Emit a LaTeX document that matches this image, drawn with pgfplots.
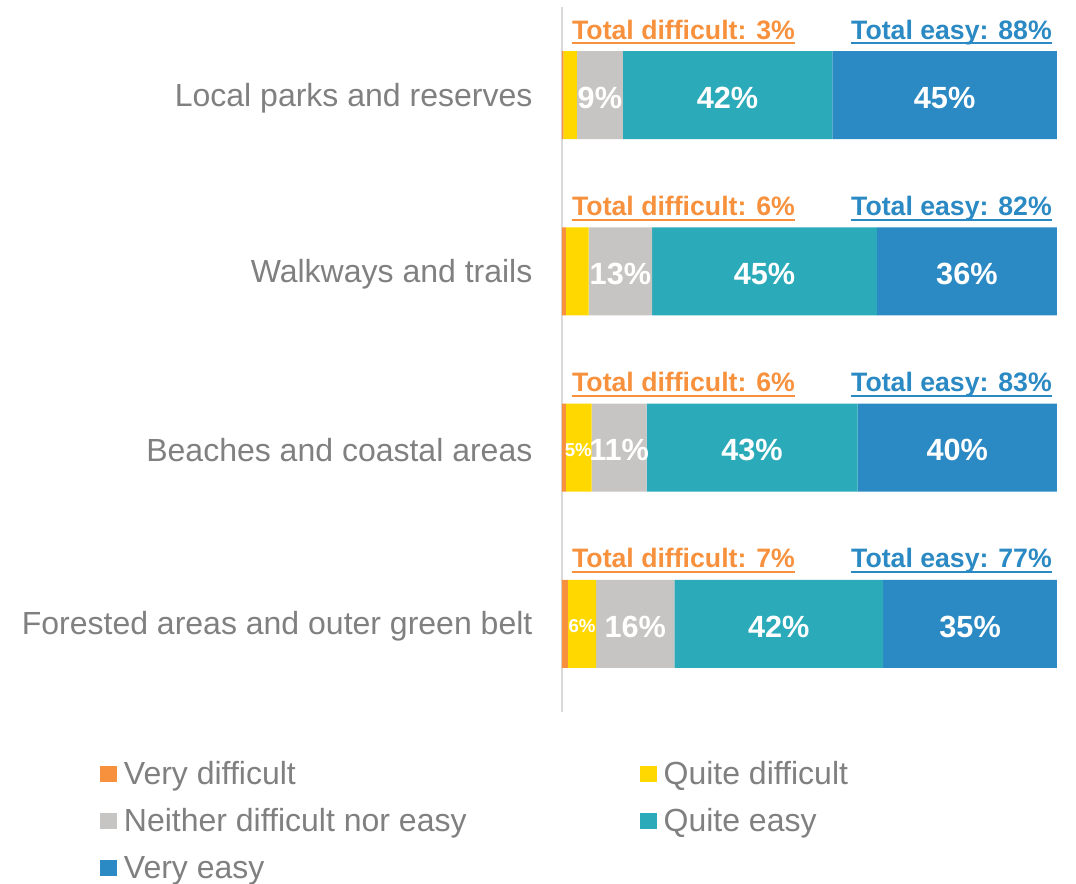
\documentclass[border=0pt]{standalone}
\usepackage{fontspec}
\setmainfont{Liberation Sans}
\usepackage{pgfplots}
\usepackage{pgfplotstable}
\pgfplotsset{compat=1.18}

\definecolor{cvd}{HTML}{F7913D}
\definecolor{cqd}{HTML}{FFD800}
\definecolor{cne}{HTML}{C7C5C3}
\definecolor{cqe}{HTML}{2BAAB9}
\definecolor{cve}{HTML}{2B89C3}
\definecolor{txtgray}{HTML}{808080}
\definecolor{axgray}{HTML}{D9D9D9}

% shares in percent (row 0 = top)
\pgfplotstableread{
cat vd  qd  ne   qe   ve
0   0.3 2.7 9.3  42.3 45.4
1   0.8 4.6 12.8 45.4 36.4
2   0.8 5.2 11.1 42.6 40.3
3   1.2 5.7 15.8 42.2 35.1
}\shares

\newcommand\ulbox[1]{\setbox0\hbox{#1}\rlap{\rule[-4pt]{\wd0}{1.5pt}}\box0}

\tikzset{tot/.style={font=\fontsize{20}{24}\selectfont\bfseries, inner sep=0pt, yshift=42pt}}

\pgfplotsset{
  frame/.style={
    at={(0,0)}, anchor=south west,
    width=371.25pt, height=528.75pt, scale only axis,
    xmin=0, xmax=100, ymin=-0.5, ymax=3.5,
    y dir=reverse},
  sq legend/.style={legend image code/.code={\fill[##1] (0pt,-4.5pt) rectangle (12.75pt,7.5pt);}},
}

\begin{document}
\begin{tikzpicture}
\begin{axis}[
  frame,
  xbar stacked,
  bar width=66pt,
  axis x line=none,
  axis y line*=left,
  y axis line style={draw=axgray, line width=1.2pt},
  ytick={0,1,2,3},
  yticklabels={Local parks and reserves, Walkways and trails, Beaches and coastal areas, Forested areas and outer green belt},
  major tick length=0pt,
  yticklabel style={font=\fontsize{24}{28}\selectfont, text=txtgray, inner sep=0pt, xshift=-22pt, yshift=-2pt},
  legend columns=2,
  legend cell align=left,
  legend style={at={(rel axis cs:-0.9333,0)}, anchor=north west, yshift=-36pt,
    draw=none, inner sep=0pt, font=\fontsize{24}{28}\selectfont, text=txtgray,
    row sep=12.25pt, nodes={inner sep=0pt, text height=18pt, text depth=5pt},
    /tikz/every odd column/.append style={column sep=5pt},
    /tikz/every even column/.append style={column sep=130pt}},
]
\addplot[fill=cvd, draw=none, sq legend] table[x=vd, y=cat] {\shares};
\addplot[fill=cqd, draw=none, sq legend] table[x=qd, y=cat] {\shares};
\addplot[fill=cne, draw=none, sq legend] table[x=ne, y=cat] {\shares};
\addplot[fill=cqe, draw=none, sq legend] table[x=qe, y=cat] {\shares};
\addplot[fill=cve, draw=none, sq legend] table[x=ve, y=cat] {\shares};
\legend{Very difficult, Quite difficult, Neither difficult nor easy, Quite easy, Very easy}

\node[tot, anchor=base west, text=cvd] at (axis cs:2,0) {\ulbox{Total difficult: 3\%}};
\node[tot, anchor=base west, text=cvd] at (axis cs:2,1) {\ulbox{Total difficult: 6\%}};
\node[tot, anchor=base west, text=cvd] at (axis cs:2,2) {\ulbox{Total difficult: 6\%}};
\node[tot, anchor=base west, text=cvd] at (axis cs:2,3) {\ulbox{Total difficult: 7\%}};
\node[tot, anchor=base east, text=cve] at (axis cs:99,0) {\ulbox{Total easy: 88\%}};
\node[tot, anchor=base east, text=cve] at (axis cs:99,1) {\ulbox{Total easy: 82\%}};
\node[tot, anchor=base east, text=cve] at (axis cs:99,2) {\ulbox{Total easy: 83\%}};
\node[tot, anchor=base east, text=cve] at (axis cs:99,3) {\ulbox{Total easy: 77\%}};
\end{axis}

% segment labels, centred in their segments (same frame, no stacking)
\begin{axis}[frame, hide axis,
  point meta=explicit symbolic,
  nodes near coords={\pgfplotspointmeta\%},
  every node near coord/.append style={anchor=center, text=white, inner sep=0pt, yshift=-2pt}]
\addplot[only marks, mark=none, every node near coord/.append style={font=\fontsize{23}{27}\selectfont\bfseries}]
  coordinates {
  (7.65,0) [9]  (33.45,0) [42] (77.3,0) [45]
  (11.8,1) [13] (40.9,1) [45]  (81.8,1) [36]
  (11.55,2) [11] (38.4,2) [43] (79.85,2) [40]
  (14.8,3) [16] (43.8,3) [42]  (82.45,3) [35]
  };
\addplot[only marks, mark=none, every node near coord/.append style={font=\fontsize{14}{16}\selectfont\bfseries}]
  coordinates {(3.3,2) [5] (4.05,3) [6]};
\end{axis}
\pgfresetboundingbox
\path[use as bounding box] (-421.5pt,-128.25pt) rectangle (385.5pt,534pt);
\end{tikzpicture}
\end{document}
